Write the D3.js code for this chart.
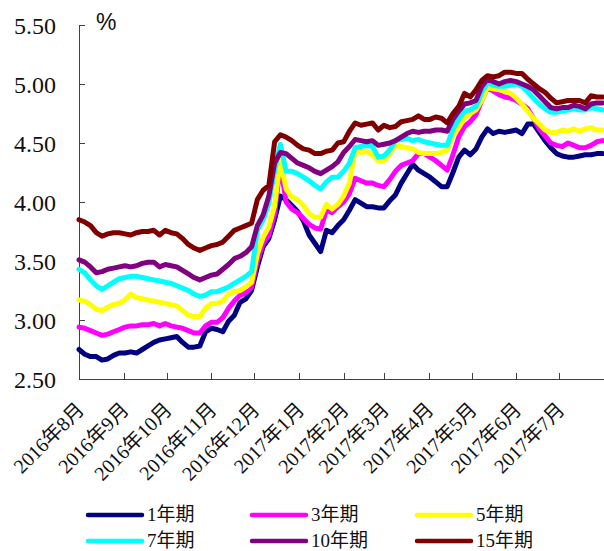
<!DOCTYPE html>
<html>
<head>
<meta charset="utf-8">
<script src="https://cdn.jsdelivr.net/npm/d3@7/dist/d3.min.js"></script>
<style>
  html, body { margin: 0; padding: 0; background: #fff; }
  svg { display: block; }
  .axis path, .axis line { stroke: #404040; stroke-width: 1; shape-rendering: crispEdges; }
</style>
</head>
<body>
<svg id="chart" width="604" height="551"></svg>
<script>
// Observation dates (every 4 days, Aug 2016 – Jul 2017)
const dates = [
  "2016-08-01","2016-08-05","2016-08-09","2016-08-13","2016-08-17","2016-08-21","2016-08-25","2016-08-29",
  "2016-09-02","2016-09-06","2016-09-10","2016-09-14","2016-09-18","2016-09-22","2016-09-26","2016-09-30",
  "2016-10-04","2016-10-08","2016-10-12","2016-10-16","2016-10-20","2016-10-24","2016-10-28",
  "2016-11-01","2016-11-05","2016-11-09","2016-11-13","2016-11-17","2016-11-21","2016-11-25","2016-11-29",
  "2016-12-03","2016-12-07","2016-12-11","2016-12-15","2016-12-19","2016-12-23","2016-12-27","2016-12-31",
  "2017-01-04","2017-01-08","2017-01-12","2017-01-16","2017-01-20","2017-01-24","2017-01-28",
  "2017-02-01","2017-02-05","2017-02-09","2017-02-13","2017-02-17","2017-02-21","2017-02-25",
  "2017-03-01","2017-03-05","2017-03-09","2017-03-13","2017-03-17","2017-03-21","2017-03-25","2017-03-29",
  "2017-04-02","2017-04-06","2017-04-10","2017-04-14","2017-04-18","2017-04-22","2017-04-26","2017-04-30",
  "2017-05-04","2017-05-08","2017-05-12","2017-05-16","2017-05-20","2017-05-24","2017-05-28",
  "2017-06-01","2017-06-05","2017-06-09","2017-06-13","2017-06-17","2017-06-21","2017-06-25","2017-06-29",
  "2017-07-03","2017-07-07","2017-07-11","2017-07-15","2017-07-19","2017-07-23","2017-07-27","2017-07-31"
];

// Yields (%) by tenor
const y1 = [
  2.75,2.71,2.69,2.69,2.66,2.67,2.70,2.72,2.72,2.73,2.72,2.75,2.78,2.81,2.83,2.84,2.85,2.86,2.81,2.77,2.77,2.78,2.90,2.93,2.92,
  2.90,2.99,3.04,3.15,3.18,3.25,3.45,3.62,3.69,3.85,4.05,4.02,3.97,3.92,3.84,3.72,3.65,3.58,3.76,3.74,3.80,3.85,3.93,
  4.02,3.99,3.96,3.96,3.95,3.95,4.01,4.06,4.16,4.24,4.32,4.27,4.24,4.21,4.17,4.13,4.13,4.25,4.38,4.44,4.40,4.45,
  4.55,4.62,4.58,4.60,4.59,4.60,4.61,4.58,4.66,4.66,4.59,4.52,4.46,4.41,4.39,4.38,4.38,4.39,4.40,4.40,4.41,4.41
];
const y3 = [
  2.94,2.93,2.91,2.89,2.87,2.88,2.90,2.92,2.94,2.95,2.95,2.96,2.96,2.97,2.95,2.97,2.95,2.94,2.93,2.91,2.89,2.89,2.95,2.98,2.98,
  3.02,3.10,3.16,3.21,3.23,3.28,3.50,3.65,3.72,3.90,4.32,4.00,3.94,3.91,3.86,3.81,3.78,3.77,3.93,3.91,3.96,4.00,4.07,
  4.20,4.18,4.16,4.16,4.14,4.13,4.19,4.26,4.31,4.33,4.35,4.41,4.41,4.38,4.35,4.31,4.27,4.40,4.55,4.64,4.68,4.74,
  4.86,4.97,4.94,4.91,4.89,4.88,4.86,4.83,4.79,4.71,4.62,4.56,4.50,4.48,4.47,4.50,4.48,4.46,4.46,4.48,4.51,4.52
];
const y5 = [
  3.17,3.16,3.13,3.09,3.08,3.11,3.13,3.14,3.17,3.22,3.19,3.18,3.17,3.16,3.15,3.14,3.13,3.12,3.08,3.04,3.03,3.03,3.10,3.14,3.14,
  3.16,3.22,3.24,3.25,3.28,3.32,3.56,3.70,3.79,3.97,4.35,4.11,4.04,4.02,3.97,3.90,3.87,3.87,3.98,3.94,3.98,4.05,4.16,
  4.44,4.42,4.43,4.40,4.35,4.35,4.41,4.48,4.47,4.46,4.45,4.42,4.41,4.41,4.41,4.42,4.44,4.56,4.63,4.71,4.75,4.78,
  4.86,4.97,4.96,4.95,4.94,4.92,4.88,4.83,4.77,4.71,4.66,4.61,4.59,4.59,4.61,4.60,4.62,4.60,4.62,4.63,4.61,4.61
];
const y7 = [
  3.43,3.40,3.34,3.29,3.26,3.29,3.32,3.35,3.36,3.37,3.37,3.36,3.35,3.34,3.33,3.32,3.31,3.29,3.27,3.25,3.22,3.20,3.21,3.24,3.24,
  3.26,3.28,3.31,3.34,3.37,3.41,3.76,3.85,3.99,4.27,4.49,4.26,4.26,4.24,4.21,4.18,4.14,4.11,4.17,4.21,4.21,4.26,4.33,
  4.46,4.47,4.48,4.47,4.38,4.39,4.44,4.52,4.53,4.54,4.52,4.53,4.51,4.50,4.49,4.48,4.48,4.62,4.70,4.77,4.78,4.81,
  4.93,5.01,4.99,4.98,4.98,4.99,5.00,4.98,4.93,4.88,4.83,4.79,4.76,4.76,4.77,4.78,4.79,4.78,4.78,4.80,4.79,4.78
];
const y10 = [
  3.51,3.49,3.45,3.40,3.41,3.43,3.44,3.45,3.46,3.45,3.46,3.48,3.49,3.49,3.45,3.47,3.46,3.45,3.42,3.39,3.36,3.34,3.36,3.38,3.39,
  3.43,3.47,3.52,3.54,3.57,3.62,3.80,3.89,4.05,4.33,4.42,4.41,4.37,4.33,4.31,4.29,4.26,4.24,4.27,4.30,4.34,4.42,4.47,
  4.53,4.52,4.51,4.52,4.48,4.49,4.50,4.52,4.55,4.58,4.60,4.59,4.60,4.60,4.61,4.61,4.60,4.70,4.77,4.83,4.84,4.86,
  4.98,5.04,5.02,5.00,5.02,5.03,5.02,5.00,4.98,4.95,4.90,4.85,4.80,4.79,4.80,4.80,4.82,4.81,4.79,4.83,4.84,4.84
];
const y15 = [
  3.85,3.83,3.80,3.74,3.71,3.73,3.74,3.74,3.73,3.72,3.74,3.75,3.75,3.76,3.72,3.76,3.74,3.73,3.69,3.64,3.61,3.59,3.61,3.63,3.64,
  3.66,3.71,3.76,3.78,3.80,3.82,4.02,4.10,4.14,4.51,4.57,4.55,4.52,4.48,4.45,4.44,4.41,4.41,4.43,4.44,4.50,4.51,4.60,
  4.67,4.65,4.66,4.67,4.61,4.65,4.63,4.64,4.68,4.69,4.70,4.73,4.70,4.70,4.72,4.71,4.67,4.75,4.81,4.92,4.89,4.95,
  5.03,5.07,5.06,5.07,5.10,5.10,5.09,5.09,5.04,5.00,4.96,4.93,4.88,4.84,4.85,4.86,4.86,4.86,4.84,4.90,4.89,4.89
];

const seriesNames = ["1年期", "3年期", "5年期", "7年期", "10年期", "15年期"];
const seriesColors = ["#000080", "#FF00FF", "#FFFF00", "#00FFFF", "#800080", "#800000"];
const seriesValues = [y1, y3, y5, y7, y10, y15];

// Axis ticks
const yTicks = [2.5, 3.0, 3.5, 4.0, 4.5, 5.0, 5.5];
const xTicks = [
  "2016-08-01","2016-09-01","2016-10-01","2016-11-01","2016-12-01",
  "2017-01-01","2017-02-01","2017-03-01","2017-04-01","2017-05-01","2017-06-01","2017-07-01"
];
const xDomain = ["2016-08-01", "2017-08-01"];
const unitLabel = "%";

const serifFont = "'Liberation Serif', 'Times New Roman', 'Noto Sans CJK SC', serif";
const textColor = "#111";

const parse = d3.timeParse("%Y-%m-%d");
const svg = d3.select("#chart");

const plotLeft = 79, plotRight = 604, plotTop = 25, plotBottom = 379;

const x = d3.scaleTime().domain(xDomain.map(parse)).range([plotLeft, plotRight]);
const y = d3.scaleLinear().domain([2.5, 5.5]).range([plotBottom, plotTop]);

// Y axis
svg.append("g")
  .attr("class", "axis")
  .attr("transform", `translate(${plotLeft},0)`)
  .call(d3.axisLeft(y).tickValues(yTicks).tickFormat(d3.format(".2f"))
    .tickSizeInner(-6).tickSizeOuter(0).tickPadding(23))
  .attr("font-family", serifFont)
  .call(g => g.selectAll("text")
    .attr("font-family", serifFont)
    .attr("font-size", 24)
    .attr("fill", textColor)
    .attr("dy", "0.34em"));

// X axis with rotated month labels
svg.append("g")
  .attr("class", "axis")
  .attr("transform", `translate(0,${plotBottom})`)
  .call(d3.axisBottom(x).tickValues(xTicks.map(parse)).tickFormat(d3.timeFormat("%Y年%-m月"))
    .tickSizeInner(-6).tickSizeOuter(0))
  .attr("font-family", serifFont)
  .call(g => g.selectAll("text")
    .attr("font-family", serifFont)
    .attr("font-size", 20)
    .attr("fill", textColor)
    .attr("x", 0).attr("y", 0).attr("dy", "0.35em")
    .attr("text-anchor", "end")
    .attr("transform", "translate(1,27) rotate(-45)"));

// Unit label
svg.append("text")
  .attr("x", 96).attr("y", 30)
  .attr("font-family", "'Liberation Sans', Arial, sans-serif")
  .attr("font-size", 23)
  .attr("fill", textColor)
  .text(unitLabel);

// Yield curves
const line = d3.line()
  .x((d, i) => x(parse(dates[i])))
  .y(d => y(d));

svg.append("g")
  .selectAll("path")
  .data(seriesValues)
  .join("path")
  .attr("d", d => line(d))
  .attr("fill", "none")
  .attr("stroke", (d, i) => seriesColors[i])
  .attr("stroke-width", 5)
  .attr("stroke-linejoin", "round")
  .attr("stroke-linecap", "round");

// Legend: 3 columns x 2 rows
const legendCols = [88, 252, 417];
const legendRows = [515, 541];
const legend = svg.append("g")
  .selectAll("g")
  .data(seriesNames)
  .join("g")
  .attr("transform", (d, i) => `translate(${legendCols[i % 3]},${legendRows[Math.floor(i / 3)]})`);

legend.append("line")
  .attr("x1", 0).attr("x2", 54)
  .attr("y1", 0).attr("y2", 0)
  .attr("stroke", (d, i) => seriesColors[i])
  .attr("stroke-width", 4.5)
  .attr("stroke-linecap", "round");

legend.append("text")
  .attr("x", 59)
  .attr("y", 0)
  .attr("dy", "0.33em")
  .attr("font-family", serifFont)
  .attr("font-size", 19)
  .attr("fill", textColor)
  .text(d => d);
</script>
</body>
</html>
